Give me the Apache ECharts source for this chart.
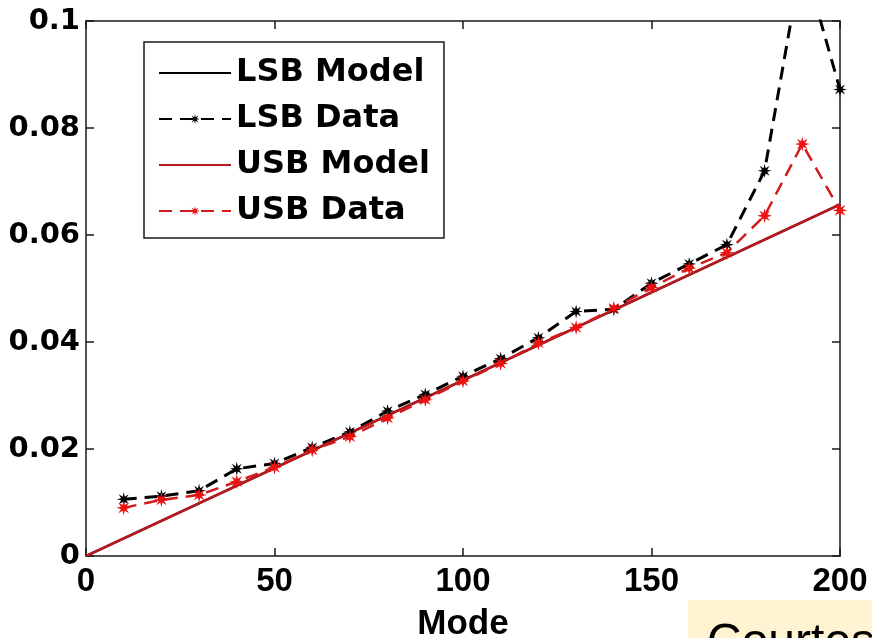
<!DOCTYPE html>
<html>
<head>
<meta charset="utf-8">
<script src="https://cdn.jsdelivr.net/npm/echarts@6/dist/echarts.min.js"></script>
<style>
  html, body { margin: 0; padding: 0; background: #fff; }
  #chart { width: 872px; height: 638px; }
</style>
</head>
<body>
<div id="chart"></div>
<script>
// Sideband amplitude versus mode number: linear models and measured points
const modes = [10, 20, 30, 40, 50, 60, 70, 80, 90, 100, 110, 120, 130, 140, 150, 160, 170, 180, 190, 200];
const lsbData = [0.0106, 0.0112, 0.0122, 0.0163, 0.0173, 0.0203, 0.0232, 0.0271, 0.0302, 0.0336, 0.0369, 0.0408, 0.0457, 0.0461, 0.0510, 0.0546, 0.0582, 0.0720, 0.1120, 0.0872];
const usbData = [0.0090, 0.0105, 0.0114, 0.0139, 0.0166, 0.0198, 0.0223, 0.0258, 0.0292, 0.0327, 0.0360, 0.0398, 0.0427, 0.0463, 0.0502, 0.0538, 0.0567, 0.0636, 0.0770, 0.0646];
const modelModes = [0, 200];
const lsbModel = [0, 0.0657];
const usbModel = [0, 0.0657];
const xTickLabels = ['0', '50', '100', '150', '200'];
const yTickLabels = ['0', '0.02', '0.04', '0.06', '0.08', '0.1'];

const pairs = (xs, ys) => xs.map((x, i) => [x, ys[i]]);

// eight-pointed asterisk marker
const starMarker = 'path://M20,10L13.7,11.53L17.07,17.07L11.53,13.7L10,20L8.47,13.7L2.93,17.07L6.3,11.53L0,10L6.3,8.47L2.93,2.93L8.47,6.3L10,0L11.53,6.3L17.07,2.93L13.7,8.47Z';

const axisLine = { show: true, onZero: false, lineStyle: { color: '#1a1a1a', width: 1.5 } };
const insideTick = { show: true, inside: true, length: 8, lineStyle: { color: '#1a1a1a', width: 1.5 } };

const chart = echarts.init(document.getElementById('chart'), null, { renderer: 'canvas' });
chart.setOption({
  animation: false,
  backgroundColor: '#ffffff',
  grid: { left: 86, right: 32, top: 21, bottom: 82, containLabel: false, outerBoundsMode: 'none' },
  legend: {
    orient: 'vertical',
    left: 144,
    top: 42,
    padding: [14, 14, 10, 14],
    itemWidth: 72,
    itemHeight: 12,
    itemGap: 12,
    backgroundColor: '#ffffff',
    borderColor: '#1a1a1a',
    borderWidth: 1.5,
    borderRadius: 0,
    textStyle: {
      fontFamily: 'DejaVu Sans',
      fontWeight: 'bold',
      fontSize: 32,
      lineHeight: 34,
      color: '#000'
    },
    data: [
      { name: 'LSB Model', itemStyle: { opacity: 0 } },
      { name: 'LSB Data' },
      { name: 'USB Model', itemStyle: { opacity: 0 } },
      { name: 'USB Data' }
    ]
  },
  xAxis: [{
    type: 'value', min: 0, max: 200, interval: 50,
    name: 'Mode', nameLocation: 'middle', nameGap: 51,
    nameTextStyle: { fontFamily: 'Liberation Sans', fontWeight: 'bold', fontSize: 35, color: '#000' },
    axisLine: axisLine, axisTick: insideTick, splitLine: { show: false },
    axisLabel: {
      margin: 9, fontFamily: 'Liberation Sans', fontWeight: 'bold', fontSize: 33, color: '#000',
      formatter: (v) => xTickLabels[Math.round(v / 50)]
    }
  }, {
    type: 'value', min: 0, max: 200, interval: 50, position: 'top',
    axisLine: axisLine, axisTick: insideTick, axisLabel: { show: false }, splitLine: { show: false }
  }],
  yAxis: [{
    type: 'value', min: 0, max: 0.1, interval: 0.02,
    axisLine: axisLine, axisTick: insideTick, splitLine: { show: false },
    axisLabel: {
      margin: 6, padding: [8, 0, 0, 0], fontFamily: 'DejaVu Sans', fontWeight: 'bold', fontSize: 29, color: '#000',
      formatter: (v) => yTickLabels[Math.round(v / 0.02)]
    }
  }, {
    type: 'value', min: 0, max: 0.1, interval: 0.02, position: 'right',
    axisLine: axisLine, axisTick: insideTick, axisLabel: { show: false }, splitLine: { show: false }
  }],
  series: [
    {
      name: 'LSB Model', type: 'line', data: pairs(modelModes, lsbModel),
      symbol: 'none', color: '#000000',
      lineStyle: { color: '#000000', width: 2 }
    },
    {
      name: 'LSB Data', type: 'line', data: pairs(modes, lsbData),
      symbol: starMarker, symbolSize: 14, showAllSymbol: true, color: '#000000',
      itemStyle: { color: '#000000' },
      lineStyle: { color: '#000000', width: 3, type: [13, 8] }
    },
    {
      name: 'USB Model', type: 'line', data: pairs(modelModes, usbModel),
      symbol: 'none', color: '#b3191e',
      lineStyle: { color: '#b3191e', width: 2.5 }
    },
    {
      name: 'USB Data', type: 'line', data: pairs(modes, usbData),
      symbol: starMarker, symbolSize: 15, showAllSymbol: true, color: '#ee1111',
      itemStyle: { color: '#ee1111' },
      lineStyle: { color: '#d01c1c', width: 2.5, type: [13, 8] }
    }
  ],
  graphic: [
    {
      type: 'rect', left: 688, top: 600, z: 100,
      shape: { width: 184, height: 38 },
      style: { fill: '#fff3d1' }
    },
    {
      type: 'text', left: 707, top: 620, z: 101,
      style: { text: 'Courtesy', fill: '#000', font: '48px "Liberation Sans", Arial, sans-serif' }
    }
  ]
});
</script>
</body>
</html>
